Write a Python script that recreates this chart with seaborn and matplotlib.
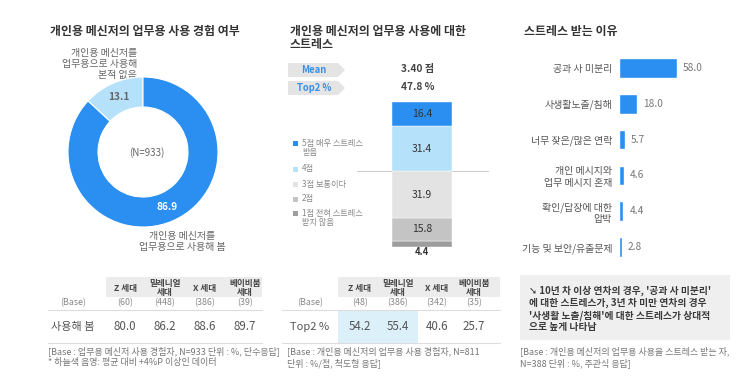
import numpy as np
import pandas as pd
import matplotlib
matplotlib.use("Agg")
import matplotlib.pyplot as plt
from matplotlib.patches import Rectangle, Polygon
import seaborn as sns

# 데이터
donut_labels = ["개인용 메신저를\n업무용으로 사용해\n본적 없음", "개인용 메신저를\n업무용으로 사용해 봄"]
donut_values = [13.1, 86.9]

gen_cols = ["Z 세대", "밀레니얼\n세대", "X 세대", "베이비붐\n세대"]
t1_base = ["(60)", "(448)", "(386)", "(39)"]
t1_used = [80.0, 86.2, 88.6, 89.7]

stress_levels = ["1점 전혀 스트레스\n받지 않음", "2점", "3점 보통이다", "4점", "5점 매우 스트레스\n받음"]
stress_values = [4.4, 15.8, 31.9, 31.4, 16.4]
stress_mean = "3.40 점"
stress_top2 = "47.8 %"

t2_base = ["(48)", "(386)", "(342)", "(35)"]
t2_top2 = [54.2, 55.4, 40.6, 25.7]

reasons = ["공과 사 미분리", "사생활노출/침해", "너무 잦은/많은 연락",
           "개인 메시지와\n업무 메시지 혼재", "확인/답장에 대한\n압박", "기능 및 보안/유출문제"]
reason_values = [58.0, 18.0, 5.7, 4.6, 4.4, 2.8]

sns.set_theme(style="white")
plt.rcParams["font.family"] = ["Noto Sans CJK KR", "DejaVu Sans"]

BLUE = "#2a8ff0"
LBLUE = "#b6e1fb"
stress_colors = ["#9d9d9d", "#c4c4c4", "#e3e3e3", LBLUE, BLUE]
DARK = "#333333"
GREY = "#666666"
FOOT = "#777777"

W, H = 750, 383
fig = plt.figure(figsize=(W / 100, H / 100), dpi=100)
fig.patch.set_facecolor("white")

bg = fig.add_axes([0, 0, 1, 1], zorder=0)
bg.set_xlim(0, W)
bg.set_ylim(H, 0)
bg.axis("off")


def px_axes(x0, y0, x1, y1):
    a = fig.add_axes([x0 / W, 1 - y1 / H, (x1 - x0) / W, (y1 - y0) / H], zorder=1)
    a.set_facecolor("none")
    return a


# ---------- 패널 1 ----------
bg.text(50, 32, "개인용 메신저의 업무용 사용 경험 여부", fontsize=8.6, fontweight="bold",
        color=DARK, va="center")

ax1 = px_axes(68, 77, 218, 227)
ax1.pie(donut_values, colors=[LBLUE, BLUE], startangle=90, counterclock=True,
        wedgeprops=dict(width=0.4, edgecolor="white", linewidth=0.8), radius=1)
ax1.set_xlim(-1, 1)
ax1.set_ylim(-1, 1)
ang = np.deg2rad(90 + 360 * np.cumsum([0] + donut_values[:-1]) / 100 + 360 * np.array(donut_values) / 200)
for a_, v, c in zip(ang, donut_values, [GREY, "white"]):
    ax1.text(0.8 * np.cos(a_), 0.8 * np.sin(a_), f"{v:.1f}", ha="center", va="center",
             fontsize=7.3, color=c, fontweight="bold")
bg.text(147, 153, "(N=933)", fontsize=7, color=GREY, ha="center", va="center")
bg.text(137, 80, donut_labels[0], fontsize=7.2, color=GREY, ha="right", va="bottom",
        multialignment="right", linespacing=1.15)
bg.text(182, 231, donut_labels[1], fontsize=7.2, color=GREY, ha="center", va="top",
        multialignment="center", linespacing=1.1)

# 표 1
t1_x = [125, 165, 205, 245]
bg.add_patch(Rectangle((106, 277), 156, 20, color="#ececec", lw=0))
for x, h in zip(t1_x, gen_cols):
    bg.text(x, 288, h, fontsize=6.2, fontweight="bold", color="#444444", ha="center",
            va="center", linespacing=1.05)
bg.text(73, 303, "(Base)", fontsize=6.4, color="#888888", ha="center", va="center")
for x, b in zip(t1_x, t1_base):
    bg.text(x, 303, b, fontsize=6.4, color="#888888", ha="center", va="center")
bg.plot([48, 262], [309.5, 309.5], color="#dddddd", lw=0.8)
bg.text(73, 327, "사용해 봄", fontsize=8, color="#555555", ha="center", va="center")
for x, v in zip(t1_x, t1_used):
    bg.text(x, 327, f"{v:.1f}", fontsize=8.3, color="#555555", ha="center", va="center")
bg.plot([48, 262], [343, 343], color="#dddddd", lw=0.8)
bg.text(48, 351, "[Base : 업무용 메신저 사용 경험자, N=933 단위 : %, 단수응답]", fontsize=6.5,
        color=FOOT, va="center")
bg.text(48, 363, "* 하늘색 음영: 평균 대비 +4%P 이상인 데이터", fontsize=6.5, color=FOOT, va="center")

# ---------- 패널 2 ----------
bg.text(290, 38, "개인용 메신저의 업무용 사용에 대한\n스트레스", fontsize=8.6, fontweight="bold",
        color=DARK, va="center", linespacing=1.05)
for (y0, y1), lab, val in [((63, 77), "Mean", stress_mean), ((81, 95), "Top2 %", stress_top2)]:
    bg.add_patch(Polygon([(288, y0), (338, y0), (345, (y0 + y1) / 2), (338, y1), (288, y1)],
                         closed=True, color="#e4e4e4", lw=0))
    bg.text(314, (y0 + y1) / 2, lab, fontsize=6.8, color="#3a8ee6", ha="center", va="center",
            fontweight="bold")
    bg.text(418, (y0 + y1) / 2 - 1, val, fontsize=7.3, color="#444444", ha="center", va="center",
            fontweight="bold")

bg.plot([357, 488], [171, 171], color="#cccccc", lw=0.8)

ax2 = px_axes(372, 102, 472, 247)
bottom = 0
for lev, v, c in zip(stress_levels, stress_values, stress_colors):
    ax2.bar(0, v, bottom=bottom, width=0.6, color=c, edgecolor="white", linewidth=0.3)
    if v > 10:
        ax2.text(0, bottom + v / 2, f"{v:.1f}", ha="center", va="center", fontsize=7.5,
                 color=DARK)
    bottom += v
ax2.set_xlim(-0.5, 0.5)
ax2.set_ylim(0, sum(stress_values))
ax2.axis("off")
bg.text(422, 252, f"{stress_values[0]:.1f}", fontsize=6.8, color=DARK, ha="center", va="center",
        fontweight="bold")

leg_y = [148, 169, 184, 199, 218]
for y, lev, c in zip(leg_y, stress_levels[::-1], stress_colors[::-1]):
    first_y = y - 4.5 if "\n" in lev else y
    bg.add_patch(Rectangle((293, first_y - 2.5), 5, 5, color=c, lw=0))
    bg.text(302, y, lev, fontsize=5.9, color="#888888", va="center", linespacing=1.1)

# 표 2
t2_x = [360, 398, 437, 474]
bg.add_patch(Rectangle((338, 277), 162, 20, color="#ececec", lw=0))
for x, h in zip(t2_x, gen_cols):
    bg.text(x, 288, h, fontsize=6.2, fontweight="bold", color="#444444", ha="center",
            va="center", linespacing=1.05)
bg.text(310, 303, "(Base)", fontsize=6.4, color="#888888", ha="center", va="center")
for x, b in zip(t2_x, t2_base):
    bg.text(x, 303, b, fontsize=6.4, color="#888888", ha="center", va="center")
bg.add_patch(Rectangle((338, 309.5), 80, 33.5, color="#dcf0fa", lw=0))
bg.plot([282, 500], [309.5, 309.5], color="#dddddd", lw=0.8)
bg.text(310, 327, "Top2 %", fontsize=8, color="#555555", ha="center", va="center")
for x, v in zip(t2_x, t2_top2):
    bg.text(x, 327, f"{v:.1f}", fontsize=8.3, color="#555555", ha="center", va="center")
bg.plot([282, 500], [343, 343], color="#dddddd", lw=0.8)
bg.text(287, 351, "[Base : 개인용 메신저의 업무용 사용 경험자, N=811", fontsize=6.5,
        color=FOOT, va="center")
bg.text(287, 363, "단위 : %/점, 척도형 응답]", fontsize=6.5, color=FOOT, va="center")

# ---------- 패널 3 ----------
bg.text(524, 32, "스트레스 받는 이유", fontsize=8.6, fontweight="bold", color=DARK, va="center")

reason_df = pd.DataFrame({"reason": reasons, "value": reason_values})
ax3 = px_axes(619, 50, 740, 265)
sns.barplot(data=reason_df, y="reason", x="value", orient="h", color=BLUE, width=0.55,
            saturation=1, ax=ax3)
for i, v in enumerate(reason_values):
    ax3.text(v + 6, i, f"{v:.1f}", va="center", ha="left", fontsize=7.3, color="#777777")
ax3.set_xlim(0, 121)
ax3.set_ylim(5.5, -0.5)
ax3.set_xlabel("")
ax3.set_ylabel("")
ax3.set_xticks([])
ax3.tick_params(axis="y", length=0, pad=5, labelsize=7.2, labelcolor="#555555")
sns.despine(ax=ax3, left=True, bottom=True)

bg.add_patch(Rectangle((520, 275), 210, 65, color="#efefef", lw=0))
note = ("➘ 10년 차 이상 연차의 경우, '공과 사 미분리'\n"
        "에 대한 스트레스가, 3년 차 미만 연차의 경우\n"
        "'사생활 노출/침해'에 대한 스트레스가 상대적\n"
        "으로 높게 나타남")
bg.text(529, 309, note, fontsize=7, color="#3a3a3a", va="center", fontweight="bold",
        linespacing=1.2)
bg.text(520, 351, "[Base : 개인용 메신저의 업무용 사용을 스트레스 받는 자,", fontsize=6.5,
        color=FOOT, va="center")
bg.text(520, 363, "N=388 단위 : %, 주관식 응답]", fontsize=6.5, color=FOOT, va="center")

fig.savefig("out.png", dpi=100, facecolor="white")
